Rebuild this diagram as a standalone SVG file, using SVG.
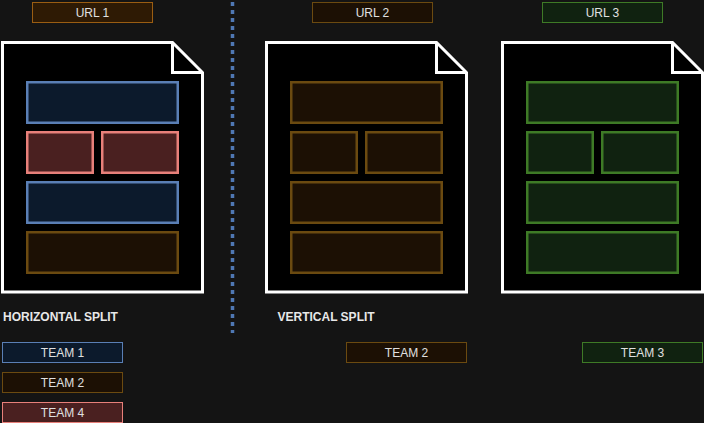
<svg xmlns="http://www.w3.org/2000/svg" width="704" height="423" viewBox="0 0 704 423">
<style>
.doc{fill:#000;stroke:#fff;stroke-width:3;stroke-linejoin:miter}
.fold{fill:none;stroke:#fff;stroke-width:3}
.blue{fill:#0c1a2c;stroke:#5a7fb5;stroke-width:2.5}
.pink{fill:#4a2020;stroke:#e8807a;stroke-width:2.5}
.brown{fill:#1c1004;stroke:#6b4a10;stroke-width:2.5}
.green{fill:#102210;stroke:#3e7a26;stroke-width:2.5}
.lbl{fill:#e0e0e0;font-family:"Liberation Sans",Arial,sans-serif;font-size:12px;text-anchor:middle}
.ttl{fill:#e8e8e8;font-family:"Liberation Sans",Arial,sans-serif;font-size:12px;font-weight:bold}
.url1{fill:#2e1a04;stroke:#9a5d12;stroke-width:1}
.tb{stroke-width:1}
</style>
<rect x="0" y="0" width="704" height="423" fill="#141414"/>
<g id="connectors">
<line x1="232.5" y1="2" x2="232.5" y2="333" stroke="#4f78b4" stroke-width="3.5" stroke-dasharray="4 4"/>
</g>
<g id="url1"><rect class="url1" x="32.5" y="2.5" width="120" height="20"/><text class="lbl" x="92.5" y="16.5">URL 1</text></g>
<g id="url2"><rect class="brown tb" x="312.5" y="2.5" width="120" height="20"/><text class="lbl" x="372.5" y="16.5">URL 2</text></g>
<g id="url3"><rect class="green tb" x="542.5" y="2.5" width="120" height="20"/><text class="lbl" x="602.5" y="16.5">URL 3</text></g>
<g id="doc1">
<path class="doc" d="M2.5,42.5 H172.5 L202.5,72.5 V292 H2.5 Z"/>
<path class="fold" d="M172.5,42.5 V72.5 H202.5"/>
<rect class="blue" x="27.25" y="82.25" width="150.5" height="40.5"/>
<rect class="pink" x="27.25" y="132.25" width="65.5" height="40.5"/>
<rect class="pink" x="102.25" y="132.25" width="75.5" height="40.5"/>
<rect class="blue" x="27.25" y="182.25" width="150.5" height="40.5"/>
<rect class="brown" x="27.25" y="232.25" width="150.5" height="40.5"/>
</g>
<g id="doc2">
<path class="doc" d="M266.5,42.5 H436.5 L466.5,72.5 V292 H266.5 Z"/>
<path class="fold" d="M436.5,42.5 V72.5 H466.5"/>
<rect class="brown" x="291.25" y="82.25" width="150.5" height="40.5"/>
<rect class="brown" x="291.25" y="132.25" width="65.5" height="40.5"/>
<rect class="brown" x="366.25" y="132.25" width="75.5" height="40.5"/>
<rect class="brown" x="291.25" y="182.25" width="150.5" height="40.5"/>
<rect class="brown" x="291.25" y="232.25" width="150.5" height="40.5"/>
</g>
<g id="doc3">
<path class="doc" d="M502.5,42.5 H672.5 L702.5,72.5 V292 H502.5 Z"/>
<path class="fold" d="M672.5,42.5 V72.5 H702.5"/>
<rect class="green" x="527.25" y="82.25" width="150.5" height="40.5"/>
<rect class="green" x="527.25" y="132.25" width="65.5" height="40.5"/>
<rect class="green" x="602.25" y="132.25" width="75.5" height="40.5"/>
<rect class="green" x="527.25" y="182.25" width="150.5" height="40.5"/>
<rect class="green" x="527.25" y="232.25" width="150.5" height="40.5"/>
</g>
<g id="label-horizontal"><text class="ttl" x="3" y="321">HORIZONTAL SPLIT</text></g>
<g id="label-vertical"><text class="ttl" x="277.5" y="321">VERTICAL SPLIT</text></g>
<g id="team1"><rect class="blue tb" x="2.5" y="342.5" width="120" height="20"/><text class="lbl" x="62.5" y="356.5">TEAM 1</text></g>
<g id="team2a"><rect class="brown tb" x="2.5" y="372.5" width="120" height="20"/><text class="lbl" x="62.5" y="386.5">TEAM 2</text></g>
<g id="team4"><rect class="pink tb" x="2.5" y="402.5" width="120" height="20"/><text class="lbl" x="62.5" y="416.5">TEAM 4</text></g>
<g id="team2b"><rect class="brown tb" x="346.5" y="342.5" width="120" height="20"/><text class="lbl" x="406.5" y="356.5">TEAM 2</text></g>
<g id="team3"><rect class="green tb" x="582.5" y="342.5" width="120" height="20"/><text class="lbl" x="642.5" y="356.5">TEAM 3</text></g>
</svg>
